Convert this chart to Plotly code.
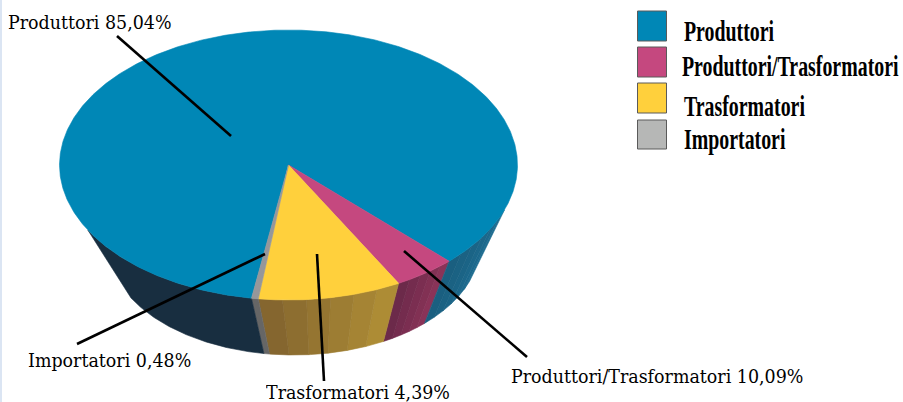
import numpy as np
import plotly.graph_objects as go

# ---- data ----
categories = ["Produttori", "Produttori/Trasformatori", "Trasformatori", "Importatori"]
printed_shares = [85.04, 10.09, 4.39, 0.48]
printed_labels = ["85,04%", "10,09%", "4,39%", "0,48%"]
# the slices in the source are drawn with the two middle shares crossed over
drawn_shares = [85.04, 4.39, 10.09, 0.48]

# ---- style / geometry ----
COLORS = ["#0087b6", "#c5487f", "#ffd03c", "#b6b7b6"]
TOP = dict(cx=288.5, cy=165.0, rx=229.0, ry=135.0)
BOT = dict(cx=294.0, cy=245.0, rx=186.0, ry=110.0)
FIRST_BOUNDARY = 45.45      # degrees clockwise from the right, end of first slice
SIL_R, SIL_L = 19.4, 151.2  # silhouette angles of the wall


def pt(e, deg):
    t = np.radians(deg)
    return e["cx"] + e["rx"] * np.cos(t), e["cy"] + e["ry"] * np.sin(t)


def arc(e, a0, a1):
    n = max(2, int(abs(a1 - a0) * 2) + 1)
    return pt(e, np.linspace(a0, a1, n))


def mix(c0, c1, f):
    a = [int(c0[i:i + 2], 16) for i in (1, 3, 5)]
    b = [int(c1[i:i + 2], 16) for i in (1, 3, 5)]
    return "#%02x%02x%02x" % tuple(round(x + (y - x) * f) for x, y in zip(a, b))


fig = go.Figure()


def poly(x, y, color):
    fig.add_trace(go.Scatter(x=x, y=y, mode="lines", fill="toself", fillcolor=color,
                             line=dict(color=color, width=0.6), hoverinfo="skip",
                             showlegend=False))


# slice angle ranges, walking clockwise from the blue/pink boundary
order = [1, 2, 3, 0]
ranges = {}
a = FIRST_BOUNDARY
for i in order:
    ranges[i] = (a, a + drawn_shares[i] * 3.6)
    a += drawn_shares[i] * 3.6


def wall(a0, a1, c0, c1, bands):
    edges = np.linspace(a0, a1, bands + 1)
    for k in range(bands):
        f = k / max(1, bands - 1)
        xt, yt = arc(TOP, edges[k], edges[k + 1])
        xb, yb = arc(BOT, edges[k + 1], edges[k])
        poly(np.r_[xt, xb, xt[0]], np.r_[yt, yb, yt[0]], mix(c0, c1, f))


wall(ranges[1][0], ranges[1][1], "#8a3358", "#6c2a4a", 5)
wall(ranges[2][0], ranges[2][1], "#ad8c35", "#85662f", 6)
wall(ranges[3][0], ranges[3][1], "#666666", "#666666", 1)
wall(ranges[0][0], SIL_L, "#182e40", "#182e40", 1)
wall(SIL_R + 360, ranges[0][1], "#1d6c90", "#1a5f80", 6)

for i in [0, 1, 2, 3]:
    a0, a1 = ranges[i]
    x, y = arc(TOP, a0, a1)
    c = COLORS[i] if i != 3 else "#96979a"
    poly(np.r_[TOP["cx"], x, TOP["cx"]], np.r_[TOP["cy"], y, TOP["cy"]], c)

# leader lines
LEADERS = [((117, 36), (231, 136)), ((527, 357), (404, 251)),
           ((324, 381), (317, 254)), ((77, 344), (265, 254))]
for (x0, y0), (x1, y1) in LEADERS:
    fig.add_trace(go.Scatter(x=[x0, x1], y=[y0, y1], mode="lines",
                             line=dict(color="#000000", width=2.6),
                             hoverinfo="skip", showlegend=False))

CALLOUT_FONT = dict(family="DejaVu Serif Condensed, DejaVu Serif, serif", size=19.4, color="#000000")
CALLOUT_POS = [(6, 22), (509, 376), (264, 391.5), (26, 360)]
CALLOUT_H = [None, None, 20, None]
annotations = []
for cat, lab, (x, y), h in zip(categories, printed_labels, CALLOUT_POS, CALLOUT_H):
    annotations.append(dict(x=x, y=y, xref="x", yref="y", text=f"{cat} {lab}", showarrow=False,
                            xanchor="left", yanchor="middle", height=h, font=CALLOUT_FONT))

LEG_FONT = dict(family="Liberation Serif", size=29, color="#000000", weight="bold")
LEG_TEXT_POS = [(682, 31), (680, 66), (682, 106), (682, 139)]
LEG_BOX_W = [100, 222, 130, 110]
SWATCHES = [(11, 41), (47, 77), (83, 113), (120, 149)]
shapes = [dict(type="rect", xref="x", yref="y", x0=0, x1=2, y0=0, y1=402,
               fillcolor="#dbe5f3", line=dict(width=0), layer="below")]
for cat, c, (x, y), (y0, y1), w in zip(categories, COLORS, LEG_TEXT_POS, SWATCHES, LEG_BOX_W):
    shapes.append(dict(type="rect", xref="x", yref="y", x0=637.5, x1=666.5, y0=y0, y1=y1,
                       fillcolor=c, line=dict(color="#5a5a5a", width=1)))
    annotations.append(dict(x=x, y=y, xref="x", yref="y", text=cat, showarrow=False,
                            xanchor="left", yanchor="middle", align="left", width=w, font=LEG_FONT))

fig.update_layout(
    width=903, height=402, margin=dict(l=0, r=0, t=0, b=0),
    paper_bgcolor="#ffffff", plot_bgcolor="#ffffff",
    xaxis=dict(range=[0, 903], visible=False, fixedrange=True),
    yaxis=dict(range=[402, 0], visible=False, fixedrange=True),
    shapes=shapes, annotations=annotations,
)

post = """
document.body.style.margin='0';
document.documentElement.style.overflow='hidden';
var names=%s;
var SQUEEZE=0.685;
document.getElementById('{plot_id}').querySelectorAll('.annotation-text').forEach(function(el){
  if(names.indexOf(el.textContent)<0) return;
  var x=parseFloat(el.getAttribute('x'))||0;
  el.setAttribute('transform','translate('+x+',0) scale('+SQUEEZE+',1) translate('+(-x)+',0)');
  el.removeAttribute('clip-path');
  el.style.clipPath='none';
  var p=el.parentNode;
  while(p && p.classList && !p.classList.contains('annotation')){p.removeAttribute('clip-path');p=p.parentNode;}
});
""" % str(categories)

fig.write_html("out.html", config={"displayModeBar": False}, post_script=post)
